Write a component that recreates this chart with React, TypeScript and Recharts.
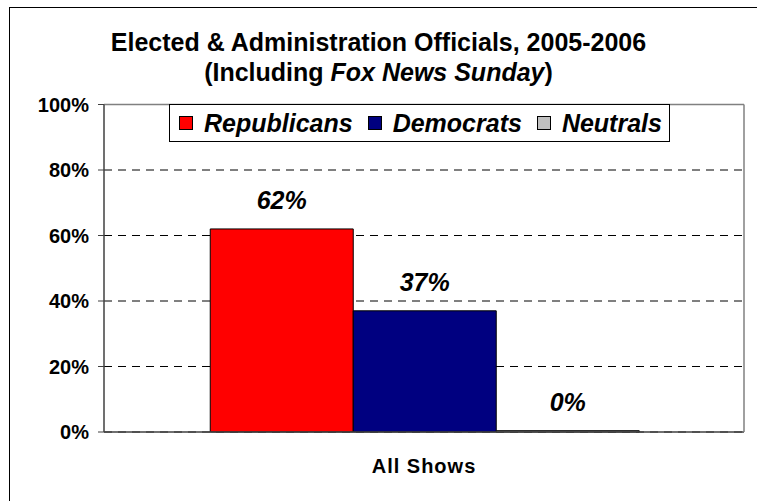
import React from "react";
import { BarChart, Bar, XAxis, YAxis, CartesianGrid, Legend, LabelList, ReferenceLine } from "recharts";

const categories = ["All Shows"];
const republicans = [62];
const democrats = [37];
const neutrals = [0.4];
const yTicks = [0, 20, 40, 60, 80, 100];
const frameTicks = [0, 1];
const seriesNames = ["Republicans", "Democrats", "Neutrals"];
const seriesColors = ["#FF0000", "#000080", "#C0C0C0"];

const data = categories.map((c, i) => ({
  name: c,
  Republicans: republicans[i],
  Democrats: democrats[i],
  Neutrals: neutrals[i],
}));

const FONT = "'Liberation Sans', Arial, sans-serif";

const XTick = (props: any) => {
  const { x, y, payload } = props;
  return (
    <text x={x} y={y + 39} textAnchor="middle" fontFamily={FONT} fontWeight="bold" fontSize={20} letterSpacing={1} fill="#000">
      {payload.value}
    </text>
  );
};

const LegendBox = (props: any) => {
  const payload = [...(props.payload || [])].sort(
    (a: any, b: any) => seriesNames.indexOf(a.value) - seriesNames.indexOf(b.value)
  );
  return (
    <div
      style={{
        border: "1px solid #000",
        background: "#fff",
        display: "flex",
        alignItems: "center",
        height: 38,
        paddingLeft: 9,
        boxSizing: "border-box",
        width: 501,
        fontFamily: FONT,
      }}
    >
      {payload.map((p: any, i: number) => (
        <div key={i} style={{ display: "flex", alignItems: "center", marginRight: 15 }}>
          <span
            style={{
              display: "inline-block",
              width: 12,
              height: 12,
              border: "1px solid #000",
              background: p.color,
              marginRight: 11,
            }}
          />
          <span style={{ fontStyle: "italic", fontWeight: "bold", fontSize: 25, lineHeight: "30px", color: "#000" }}>{p.value}</span>
        </div>
      ))}
    </div>
  );
};

export default function App() {
  return (
    <div style={{ position: "absolute", left: 0, top: 0, width: 757, height: 501, overflow: "hidden", background: "#fff" }}>
      <div
        style={{
          position: "absolute",
          left: 9,
          top: 7,
          width: 760,
          height: 510,
          borderTop: "1px solid #000",
          borderLeft: "1px solid #000",
        }}
      />
      <div
        style={{
          position: "absolute",
          left: 0,
          top: 27,
          width: 757,
          textAlign: "center",
          fontFamily: FONT,
          fontWeight: "bold",
          fontSize: 25,
          lineHeight: "30px",
          color: "#000",
        }}
      >
        <div>Elected &amp; Administration Officials, 2005-2006</div>
        <div>
          (Including <i>Fox News Sunday</i>)
        </div>
      </div>
      <div style={{ position: "absolute", left: 0, top: 0 }}>
        <BarChart
          width={757}
          height={501}
          data={data}
          margin={{ top: 104.5, right: 12, bottom: 29, left: 44 }}
          barCategoryGap="16.6%"
          barGap={0}
        >
          <CartesianGrid vertical={false} stroke="#000" strokeDasharray="8 6" />
          <ReferenceLine y={100} stroke="#808080" strokeWidth={1.5} />
          <XAxis
            xAxisId="frame"
            type="number"
            domain={[0, 1]}
            ticks={frameTicks}
            height={0}
            tick={false}
            tickSize={6}
            tickLine={{ stroke: "#404040" }}
            axisLine={false}
          />
          <XAxis
            dataKey="name"
            height={40}
            tickSize={0}
            tickLine={false}
            axisLine={{ stroke: "#404040", strokeWidth: 1.5 }}
            tick={<XTick />}
            interval={0}
          />
          <YAxis
            width={60}
            domain={[0, 100]}
            ticks={yTicks}
            tickFormatter={(v: number) => `${v}%`}
            tickSize={6}
            tickMargin={9}
            tickLine={{ stroke: "#404040" }}
            axisLine={{ stroke: "#404040", strokeWidth: 1.5 }}
            tick={{ fontFamily: FONT, fontWeight: "bold", fontSize: 20, fill: "#000" }}
          />
          <YAxis
            yAxisId="right"
            orientation="right"
            width={1}
            domain={[0, 100]}
            tick={false}
            tickLine={false}
            axisLine={{ stroke: "#808080", strokeWidth: 1.5 }}
          />
          <Legend
            layout="horizontal"
            verticalAlign="middle"
            align="center"
            wrapperStyle={{ left: 169, top: 104, width: 501 }}
            content={<LegendBox />}
          />
          {seriesNames.map((s, i) => (
            <Bar key={s} dataKey={s} name={s} fill={seriesColors[i]} stroke="#000" strokeWidth={1} isAnimationActive={false}>
              <LabelList
                dataKey={s}
                position="top"
                offset={20}
                formatter={(v: any) => `${Math.round(Number(v))}%`}
                style={{ fontFamily: FONT, fontWeight: "bold", fontStyle: "italic", fontSize: 25, fill: "#000" }}
              />
            </Bar>
          ))}
        </BarChart>
      </div>
    </div>
  );
}
